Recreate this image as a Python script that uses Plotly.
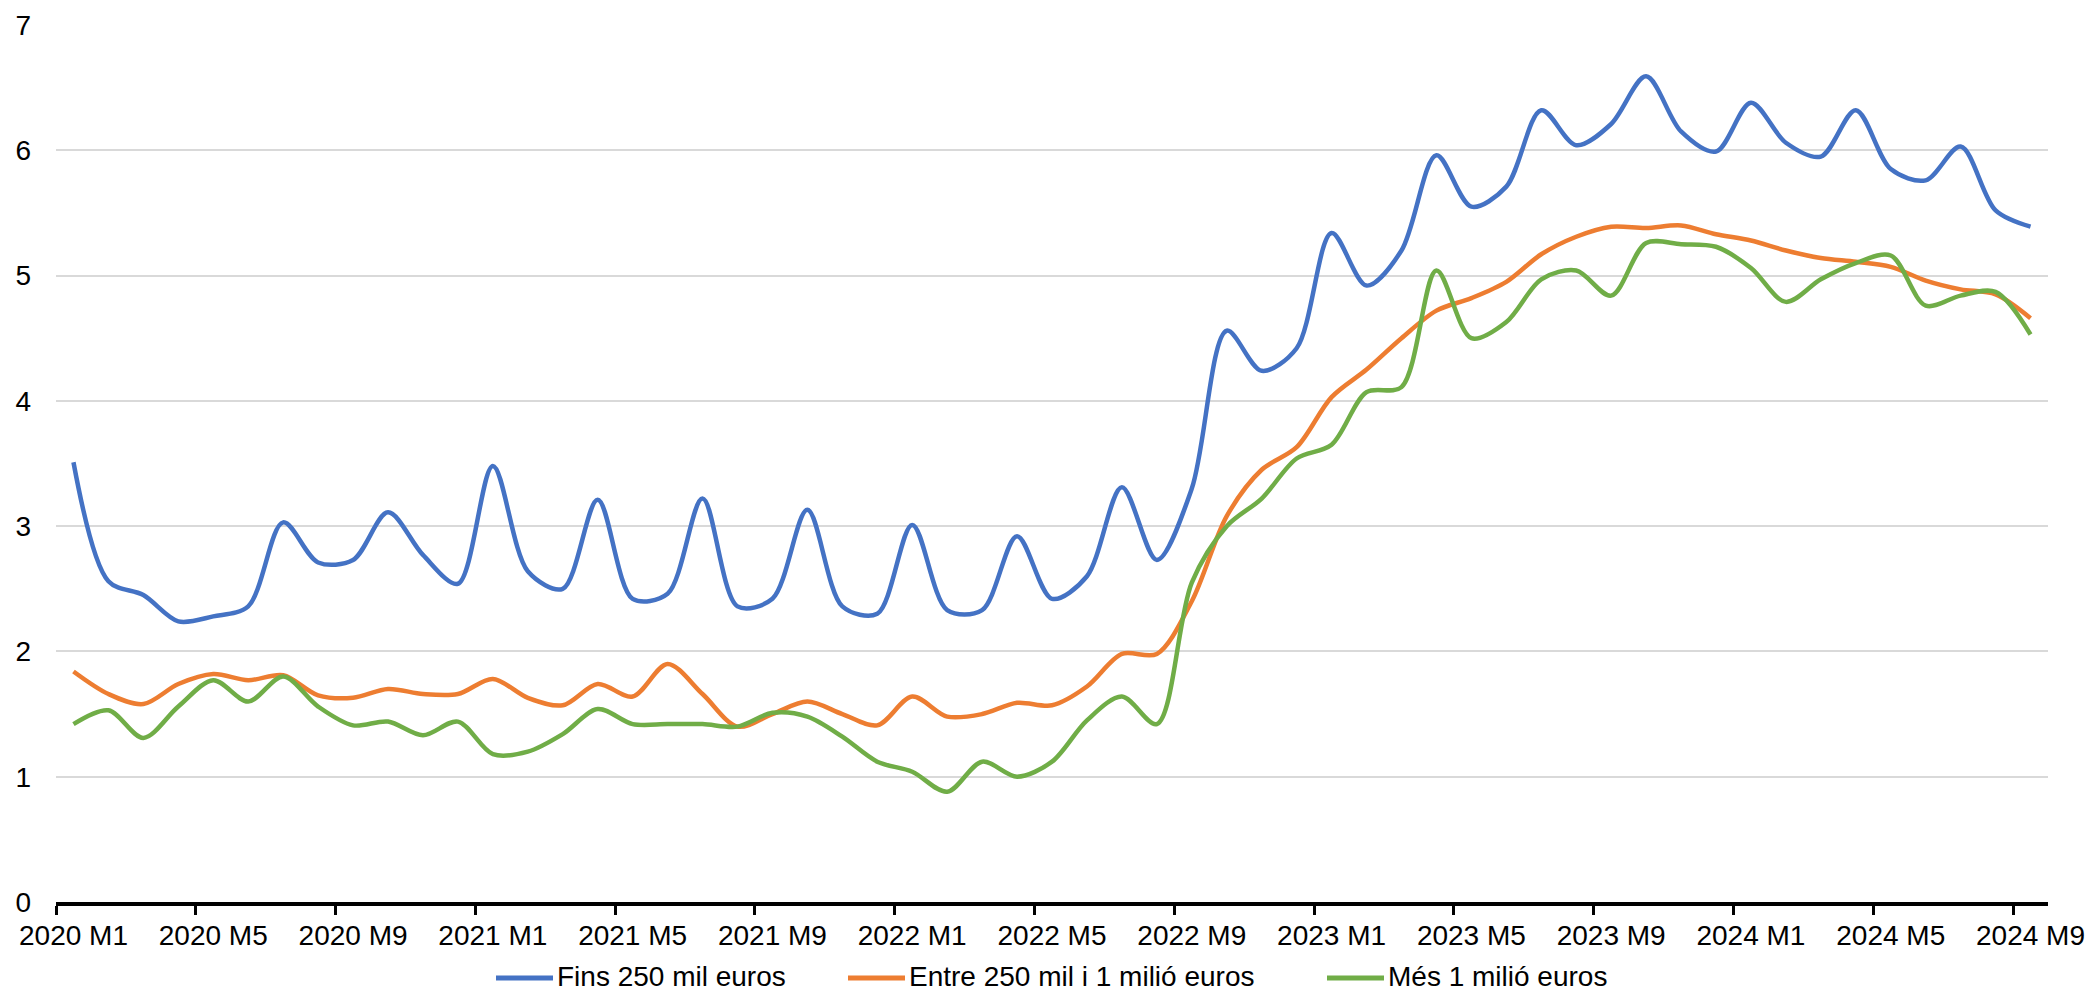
import plotly.graph_objects as go

# Monthly series, 2020 M1 .. 2024 M9
months = [f"{y} M{m}" for y in range(2020, 2025) for m in range(1, 13)][:57]

fins_250_mil = [
    3.51, 2.56, 2.45, 2.24, 2.28, 2.36, 3.03, 2.71, 2.73, 3.11, 2.77, 2.54,
    3.48, 2.64, 2.50, 3.21, 2.42, 2.46, 3.22, 2.36, 2.42, 3.13, 2.36, 2.30,
    3.01, 2.33, 2.33, 2.92, 2.42, 2.60, 3.31, 2.73, 3.30, 4.56, 4.24, 4.42,
    5.34, 4.92, 5.20, 5.96, 5.55, 5.71, 6.32, 6.04, 6.21, 6.59, 6.15, 5.99,
    6.38, 6.06, 5.95, 6.32, 5.85, 5.76, 6.03, 5.52, 5.39,
]
entre_250_mil_1_milio = [
    1.84, 1.66, 1.58, 1.74, 1.82, 1.77, 1.81, 1.65, 1.63, 1.70, 1.66, 1.66,
    1.78, 1.63, 1.57, 1.74, 1.64, 1.90, 1.66, 1.40, 1.50, 1.60, 1.50, 1.41,
    1.64, 1.48, 1.50, 1.59, 1.57, 1.72, 1.98, 1.98, 2.40, 3.08, 3.45, 3.63,
    4.03, 4.25, 4.50, 4.72, 4.82, 4.95, 5.17, 5.31, 5.39, 5.38, 5.40, 5.33,
    5.28, 5.20, 5.14, 5.11, 5.07, 4.96, 4.89, 4.85, 4.66,
]
mes_1_milio = [
    1.42, 1.53, 1.31, 1.56, 1.77, 1.60, 1.80, 1.56, 1.41, 1.44, 1.33, 1.44,
    1.18, 1.20, 1.34, 1.54, 1.42, 1.42, 1.42, 1.40, 1.51, 1.48, 1.32, 1.12,
    1.04, 0.88, 1.12, 1.00, 1.12, 1.45, 1.64, 1.42, 2.55, 3.00, 3.22, 3.54,
    3.65, 4.07, 4.11, 5.04, 4.50, 4.63, 4.97, 5.04, 4.84, 5.26, 5.25, 5.23,
    5.06, 4.79, 4.97, 5.10, 5.16, 4.76, 4.84, 4.87, 4.53,
]

series_names = ["Fins 250 mil euros", "Entre 250 mil i 1 milió euros", "Més 1 milió euros"]
series_values = [fins_250_mil, entre_250_mil_1_milio, mes_1_milio]
series_colors = ["#4472C4", "#ED7D31", "#70AD47"]
y_ticks = [0, 1, 2, 3, 4, 5, 6, 7]

W, H = 2091, 993
FONT = "Liberation Sans, Arial, sans-serif"
M_L, M_R, M_T, M_B = 56, 43, 25, 91
PLOT_W, PLOT_H = W - M_L - M_R, H - M_T - M_B

x_idx = list(range(len(months)))
label_idx = x_idx[::4]
boundary_ticks = [i - 0.5 for i in label_idx]
n = len(months)

fig = go.Figure()
for name, vals, col in zip(series_names, series_values, series_colors):
    fig.add_trace(go.Scatter(
        x=x_idx, y=vals, name=name, mode="lines",
        line=dict(color=col, width=4.5, shape="spline", smoothing=0.9),
        showlegend=False,
    ))

# tick labels live on an overlaid axis so they sit under the category centres
fig.add_trace(go.Scatter(x=[x_idx[0]], y=[None], xaxis="x2", showlegend=False,
                         hoverinfo="skip"))


def px_to_paper_x(px):
    return (px - M_L) / PLOT_W


def px_to_paper_y(py):
    return (H - M_B - py) / PLOT_H


# legend row under the axis: colour key line + label for each series
key_line_starts = [496, 848, 1327]
key_line_len = 57
key_text_gap = 3
key_y = 978
for name, col, x0 in zip(series_names, series_colors, key_line_starts):
    fig.add_shape(
        type="line", xref="paper", yref="paper",
        x0=px_to_paper_x(x0), x1=px_to_paper_x(x0 + key_line_len),
        y0=px_to_paper_y(key_y), y1=px_to_paper_y(key_y),
        line=dict(color=col, width=5),
    )
    fig.add_annotation(
        text=name, xref="paper", yref="paper",
        x=px_to_paper_x(x0 + key_line_len + key_text_gap), y=px_to_paper_y(H),
        xanchor="left", yanchor="bottom", showarrow=False, borderpad=0,
        font=dict(family=FONT, size=28, color="black"),
    )

fig.update_layout(
    width=W, height=H, autosize=False,
    margin=dict(l=M_L, r=M_R, t=M_T, b=M_B, autoexpand=False),
    paper_bgcolor="white", plot_bgcolor="white",
    font=dict(family=FONT, size=28, color="black"),
    showlegend=False,
    xaxis=dict(
        range=[-0.5, n - 0.5], tickmode="array", tickvals=boundary_ticks,
        showticklabels=False, ticks="outside", ticklen=9, tickwidth=3,
        tickcolor="black", showline=True, linecolor="black", linewidth=3.5,
        showgrid=False, zeroline=False,
    ),
    xaxis2=dict(
        overlaying="x", anchor="y", side="bottom",
        range=[-0.5, n - 0.5], tickmode="array", tickvals=label_idx,
        ticktext=[months[i] for i in label_idx],
        ticks="", ticklabelstandoff=14, showline=False, showgrid=False,
        zeroline=False, tickfont=dict(family=FONT, size=28, color="black"),
    ),
    yaxis=dict(
        range=[0, 7], tickmode="array", tickvals=y_ticks,
        showgrid=True, gridcolor="#d9d9d9", gridwidth=2,
        zeroline=False, showline=False, ticks="", ticklabelstandoff=24,
        tickfont=dict(family=FONT, size=28, color="black"),
    ),
)

fig.write_html("out.html")
